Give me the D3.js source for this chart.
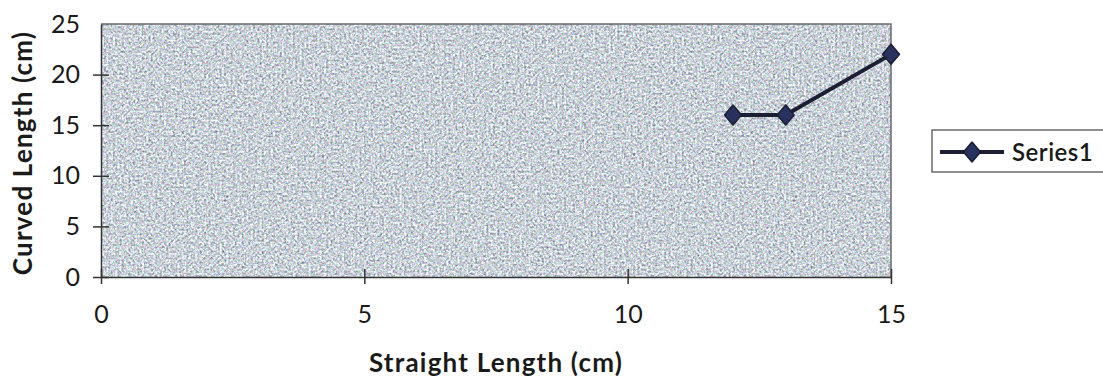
<!DOCTYPE html>
<html>
<head>
<meta charset="utf-8">
<script src="https://cdn.jsdelivr.net/npm/d3@7"></script>
<style>
  html, body { margin: 0; padding: 0; background: #fff; }
  svg { display: block; }
  text { font-family: "Lato", "Open Sans", sans-serif; fill: #1a1a1a; }
</style>
</head>
<body>
<svg id="chart" width="1103" height="379"></svg>
<script>
// Series data: straight length (x) vs curved length (y), in cm
const straightLength = [12, 13, 15];
const curvedLength = [16, 16, 22];
const seriesName = "Series1";
const xTicks = [0, 5, 10, 15];
const yTicks = [0, 5, 10, 15, 20, 25];
const xTitle = "Straight Length (cm)";
const yTitle = "Curved Length (cm)";

const svg = d3.select("#chart");
const plot = { left: 101, right: 891, top: 24, bottom: 277 };

const x = d3.scaleLinear().domain([0, 15]).range([plot.left, plot.right]);
const y = d3.scaleLinear().domain([0, 25]).range([plot.bottom, plot.top]);

// Speckled, granite-like plot-area fill (light grey with faint pastel tints)
const defs = svg.append("defs");
const f = defs.append("filter").attr("id", "speckle")
  .attr("x", 0).attr("y", 0).attr("width", "100%").attr("height", "100%")
  .attr("color-interpolation-filters", "sRGB");
f.append("feTurbulence").attr("type", "fractalNoise")
  .attr("baseFrequency", 0.45).attr("numOctaves", 2).attr("seed", 11).attr("result", "noise");
f.append("feColorMatrix").attr("in", "noise").attr("type", "matrix")
  .attr("values", "0.8 0.35 0.35 0 0.04  0.35 0.8 0.35 0 0.07  0.35 0.35 0.8 0 0.1  0 0 0 0 1");

svg.append("rect")
  .attr("x", plot.left).attr("y", plot.top)
  .attr("width", plot.right - plot.left).attr("height", plot.bottom - plot.top)
  .attr("fill", "#c9cdd6");
svg.append("rect")
  .attr("x", plot.left).attr("y", plot.top)
  .attr("width", plot.right - plot.left).attr("height", plot.bottom - plot.top)
  .attr("filter", "url(#speckle)").attr("opacity", 0.9);

// Plot-area frame (top and right)
svg.append("path")
  .attr("d", `M${plot.left},${plot.top}H${plot.right}V${plot.bottom}`)
  .attr("fill", "none").attr("stroke", "#6a6a6a").attr("stroke-width", 1.5);

// Axes
const xAxis = d3.axisBottom(x).tickValues(xTicks).tickSizeInner(7).tickSizeOuter(0).tickPadding(21);
const gx = svg.append("g").attr("transform", `translate(0,${plot.bottom})`).call(xAxis);
gx.select(".domain").attr("stroke", "#333").attr("stroke-width", 1.5);
gx.selectAll(".tick line").attr("stroke", "#333").attr("stroke-width", 1.5).attr("y1", -8);
gx.selectAll(".tick text").attr("font-size", 25).attr("fill", "#1a1a1a").attr("font-family", "Lato");

const yAxis = d3.axisLeft(y).tickValues(yTicks).tickSizeInner(8).tickSizeOuter(0).tickPadding(13);
const gy = svg.append("g").attr("transform", `translate(${plot.left},0)`).call(yAxis);
gy.select(".domain").attr("stroke", "#333").attr("stroke-width", 1.5);
gy.selectAll(".tick line").attr("stroke", "#333").attr("stroke-width", 1.5).attr("x1", 8);
gy.selectAll(".tick text").attr("font-size", 25).attr("fill", "#1a1a1a").attr("font-family", "Lato");
gy.selectAll(".tick").filter(d => d === 25).select("line").remove();

// Axis titles
svg.append("text")
  .attr("x", (plot.left + plot.right) / 2).attr("y", 372)
  .attr("text-anchor", "middle").attr("font-size", 26).attr("font-weight", 700)
  .attr("letter-spacing", 1.2)
  .text(xTitle);
svg.append("text")
  .attr("transform", `translate(32,${153}) rotate(-90)`)
  .attr("text-anchor", "middle").attr("font-size", 26).attr("font-weight", 700)
  .attr("letter-spacing", 1.2)
  .text(yTitle);

// Diamond marker: slightly taller than wide
const diamondPath = "M0,-10L8.5,0L0,10L-8.5,0Z";

// Series line and markers
const pts = straightLength.map((v, i) => [v, curvedLength[i]]);
svg.append("path")
  .datum(pts)
  .attr("d", d3.line().x(d => x(d[0])).y(d => y(d[1])))
  .attr("fill", "none").attr("stroke", "#1c1f33").attr("stroke-width", 4);

svg.selectAll(".marker").data(pts).join("path")
  .attr("class", "marker")
  .attr("transform", d => `translate(${x(d[0])},${y(d[1])})`)
  .attr("d", diamondPath)
  .attr("fill", "#28325f").attr("stroke", "#1c1f33").attr("stroke-width", 1.5)
  .attr("stroke-linejoin", "round");

// Legend
const lg = svg.append("g");
lg.append("rect")
  .attr("x", 932).attr("y", 130).attr("width", 180).attr("height", 42)
  .attr("fill", "#fff").attr("stroke", "#6a6a6a").attr("stroke-width", 1.5);
lg.append("line")
  .attr("x1", 940).attr("x2", 1004).attr("y1", 152).attr("y2", 152)
  .attr("stroke", "#1c1f33").attr("stroke-width", 4);
lg.append("path")
  .attr("transform", "translate(972,152)")
  .attr("d", diamondPath)
  .attr("fill", "#28325f").attr("stroke", "#1c1f33").attr("stroke-width", 1.5)
  .attr("stroke-linejoin", "round");
lg.append("text")
  .attr("x", 1012).attr("y", 161)
  .attr("font-size", 24).attr("font-weight", 600)
  .attr("letter-spacing", 0.5)
  .text(seriesName);
</script>
</body>
</html>
